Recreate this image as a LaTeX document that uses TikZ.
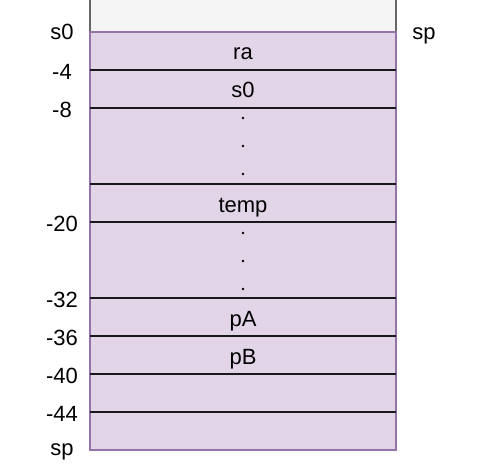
\documentclass[tikz,border=0pt]{standalone}
\usepackage{fontspec}
\setmainfont{Liberation Sans}
\usepackage{xcolor}
\usepackage{tikz}
\definecolor{framefill}{HTML}{E1D5E7}
\definecolor{frameline}{HTML}{9673A6}
\definecolor{oldfill}{HTML}{F5F5F5}
\definecolor{oldline}{HTML}{666666}
\tikzset{every node/.append style={font=\fontsize{22}{26}\selectfont, inner sep=0pt}}

\begin{document}
\begin{tikzpicture}[x=1pt, y=-1pt]
    \useasboundingbox (0,0) rectangle (487,473);
    % previous frame, cut at the top
    \begin{scope}
        \clip (0,0) rectangle (487,473);
        \draw[oldline, fill=oldfill, line width=1.4pt] (90,-20) rectangle (396,32);
    \end{scope}
    % current frame
    \draw[frameline, fill=framefill, line width=1.4pt] (90,32) rectangle (396,450);
    \foreach \y in {70,108,184,222,298,336,374,412}
        \draw[line width=1.4pt, black!90] (90,\y) -- (396,\y);
    % slots
    \node[anchor=base] (ra) at (243,60) {ra};
    \node[anchor=base] (saved) at (243,98) {s0};
    \node[anchor=base] (temp) at (243,212) {temp};
    \node[anchor=base] (pA) at (243,326) {pA};
    \node[anchor=base] (pB) at (243,364) {pB};
    \foreach \y in {118,146,174,233,261,289}
        \fill (243,\y) circle (1.4pt);
    % offsets
    \node[anchor=base] (fp) at (62,40) {s0};
    \foreach \y/\t in {70/-4, 108/-8, 222/-20, 298/-32, 336/-36, 374/-40, 412/-44}
        \node[anchor=base] (off\t) at (62,\y+9.5) {\t};
    \node[anchor=base] (spnew) at (62,455.5) {sp};
    \node[anchor=base] (spold) at (424,40) {sp};
\end{tikzpicture}
\end{document}
